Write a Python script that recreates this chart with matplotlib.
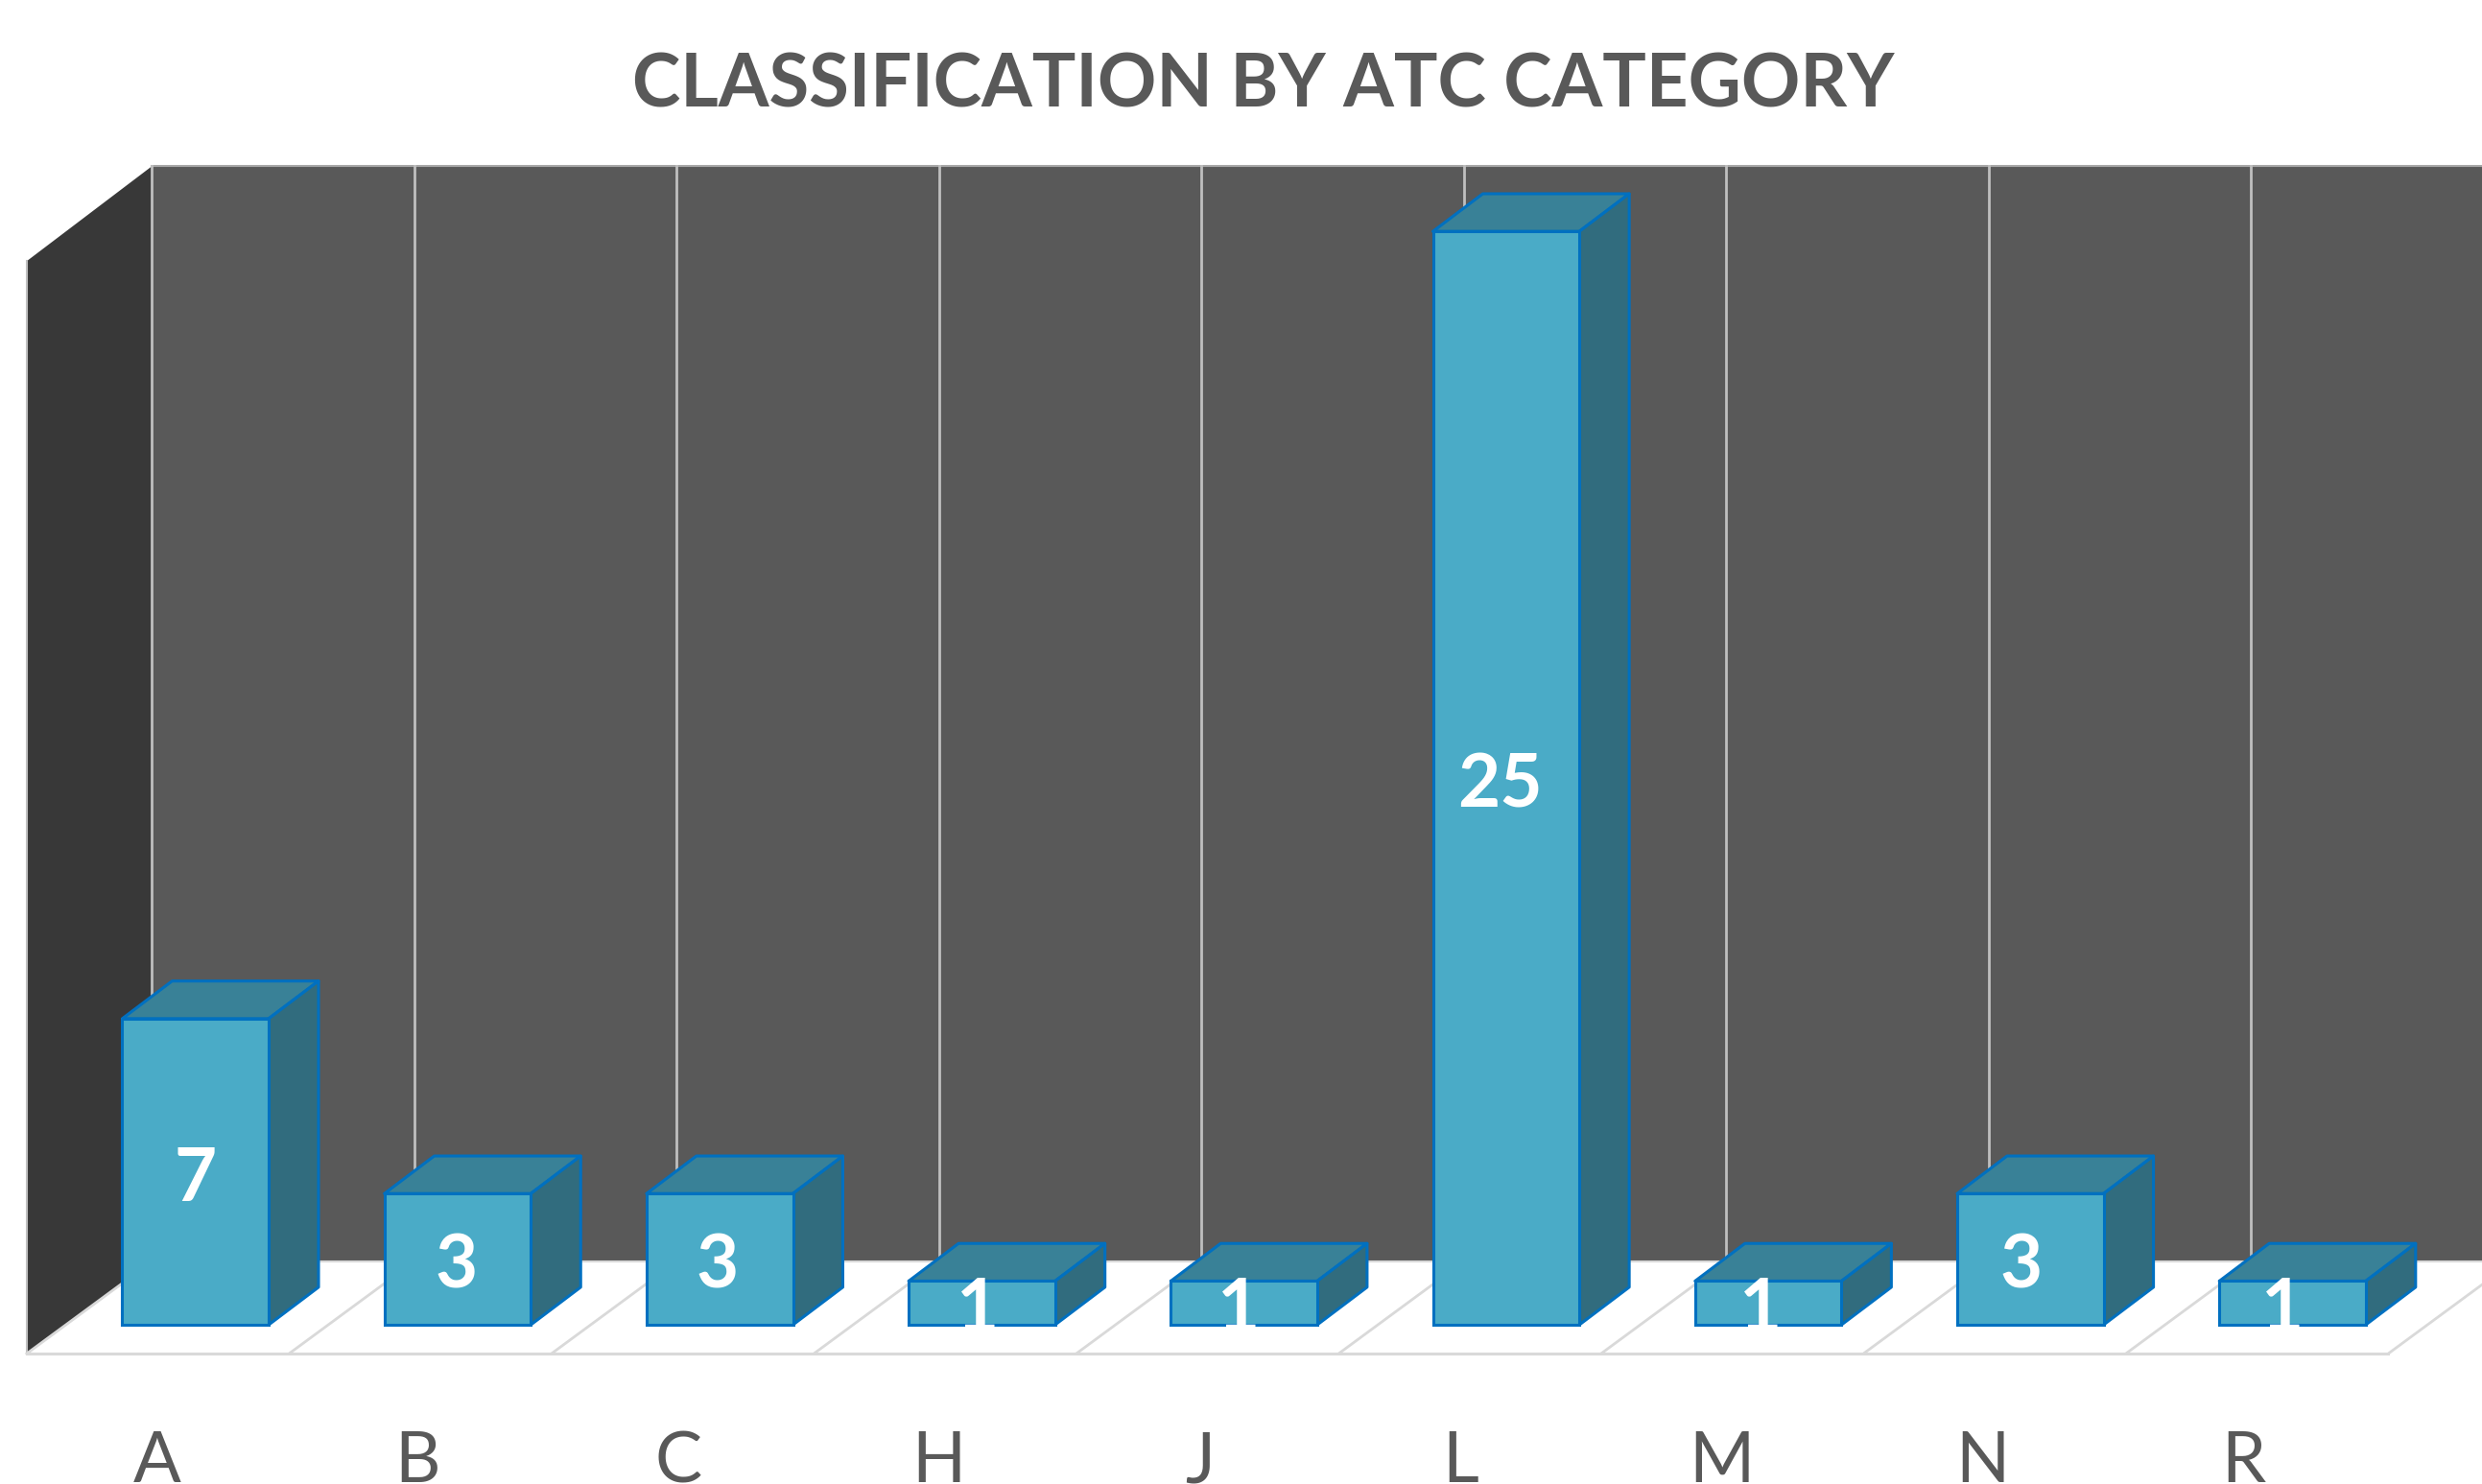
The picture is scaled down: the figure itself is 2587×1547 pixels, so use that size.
import matplotlib
matplotlib.use('Agg')
import matplotlib.pyplot as plt

plt.rcParams['font.family'] = ['Lato', 'DejaVu Sans']

categories = ['A', 'B', 'C', 'H', 'J', 'L', 'M', 'N', 'R']
values = [7, 3, 3, 1, 1, 25, 1, 3, 1]
title = 'CLASSIFICATION BY ATC CATEGORY'

W, H = 2587, 1547
fig = plt.figure(figsize=(W / 100, H / 100), dpi=100)
ax = fig.add_axes([0, 0, 1, 1])
ax.set_xlim(-0.745, 8.714)
ax.set_ylim(-3.64, 30.29)
ax.axis('off')

# box of the fake 3d chart, in data units
floor_front = -0.658
floor_back = 1.447
wall_top = 26.49
side_top = 24.32
left_front = -0.643
left_back = -0.166
bar_w = 0.558
bar_step = 0.999
dx = 0.19
dy = 0.86
text_step = 0.994  # labels drift a bit left of the bars

ax.fill([left_back, 8.9, 8.9, left_back],
        [floor_back, floor_back, wall_top, wall_top], color='#595959', lw=0, zorder=1)
ax.fill([left_front, left_back, left_back, left_front],
        [floor_front, floor_back, wall_top, side_top], color='#383838', lw=0, zorder=2)
ax.plot([left_back, 8.9], [wall_top, wall_top], color='#A6A6A6', lw=1.5, zorder=2)
ax.plot([left_front, left_front], [floor_front, side_top], color='#BFBFBF', lw=1.5, zorder=3)

for k in range(10):
    ax.plot([left_back + k, left_back + k], [floor_back, wall_top], color='#BFBFBF', lw=2, zorder=3)
    ax.plot([left_front + k, left_back + k], [floor_front, floor_back], color='#D9D9D9', lw=2, zorder=3)
ax.plot([left_front, left_front + 9], [floor_front, floor_front], color='#D9D9D9', lw=2.2, zorder=3)
ax.plot([left_back, 8.9], [floor_back, floor_back], color='#D9D9D9', lw=1.5, zorder=3)

edge = '#0070C0'
bar_x = [i * bar_step for i in range(len(values))]
for x, v in zip(bar_x, values):
    x0 = x - bar_w / 2
    x1 = x + bar_w / 2
    ax.fill([x0, x1, x1 + dx, x0 + dx], [v, v, v + dy, v + dy],
            facecolor='#398197', edgecolor=edge, lw=2.2, joinstyle='round', zorder=5)
    ax.fill([x1, x1 + dx, x1 + dx, x1], [0, dy, v + dy, v],
            facecolor='#316C7E', edgecolor=edge, lw=2.2, joinstyle='round', zorder=5)
ax.bar(bar_x, values, bar_w, facecolor='#4AABC7', edgecolor=edge, lw=2.2, zorder=6)

for i, v in enumerate(values):
    ax.text(i * text_step, v / 2 - 0.18, str(v), color='white', fontsize=55, fontweight='bold',
            ha='center', va='center', zorder=7)
    ax.text(i * text_step - 0.148, -3.6, categories[i], color='#595959', fontsize=53,
            ha='center', va='baseline', zorder=7)

ax.text(4.07, 28.32, title, color='#595959', fontsize=54.7, fontweight='bold',
        ha='center', va='center', zorder=7)

fig.savefig('out.png', dpi=100)
